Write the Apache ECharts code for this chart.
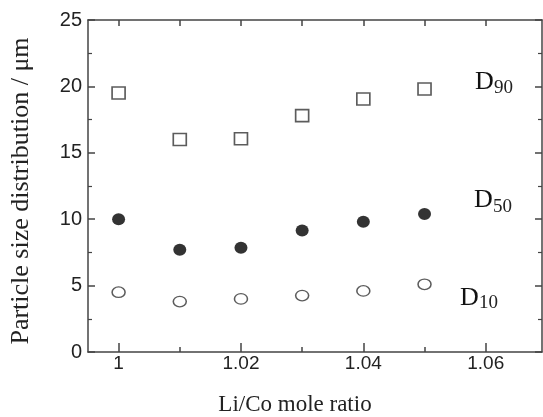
<!DOCTYPE html>
<html>
<head>
<meta charset="utf-8">
<script src="https://cdn.jsdelivr.net/npm/echarts@6/dist/echarts.min.js"></script>
<style>
html,body{margin:0;padding:0;background:#fff;}
#c{width:543px;height:417px;}
</style>
</head>
<body>
<div id="c"></div>
<script>
// ---- data ----
var ratios = [1.00, 1.01, 1.02, 1.03, 1.04, 1.05];
var d90 = [19.5, 16.0, 16.05, 17.8, 19.05, 19.8];
var d50 = [10.0, 7.7, 7.85, 9.15, 9.8, 10.4];
var d10 = [4.5, 3.8, 4.0, 4.25, 4.6, 5.1];
var xMajorTicks = [1.00, 1.02, 1.04, 1.06];
var xMinorTicks = [1.01, 1.03, 1.05];
var xAllTicks = [1.00, 1.01, 1.02, 1.03, 1.04, 1.05, 1.06];
var yTickStep = 5;
var seriesNames = ['D90', 'D50', 'D10'];

function pairs(ys) { return ratios.map(function (x, i) { return [x, ys[i]]; }); }

var axisColor = '#444';
var xMin = 0.995, xMax = 1.0692;

var chart = echarts.init(document.getElementById('c'), null, {renderer: 'canvas'});
var serif = '"Liberation Serif","DejaVu Serif",serif';
var sans = '"Liberation Sans",Arial,sans-serif';

var option = {
  backgroundColor: '#ffffff',
  animation: false,
  grid: {left: 88, right: 1, top: 20, bottom: 65, containLabel: false},
  xAxis: [
    {
      type: 'value', min: xMin, max: xMax, position: 'bottom',
      axisLine: {show: true, onZero: false, lineStyle: {color: axisColor, width: 1.5}},
      axisTick: {show: true, inside: true, length: 9, customValues: xMajorTicks, lineStyle: {color: axisColor, width: 1.5}},
      axisLabel: {show: true, customValues: xMajorTicks, margin: 2, fontSize: 19, fontFamily: sans, color: '#222',
        formatter: function (v) { return String(parseFloat(v.toFixed(2))); }},
      splitLine: {show: false}
    },
    {
      type: 'value', min: xMin, max: xMax, position: 'bottom',
      axisLine: {show: false},
      axisTick: {show: true, inside: true, length: 5, customValues: xMinorTicks, lineStyle: {color: axisColor, width: 1.5}},
      axisLabel: {show: false},
      splitLine: {show: false}
    },
    {
      type: 'value', min: xMin, max: xMax, position: 'top',
      axisLine: {show: true, onZero: false, lineStyle: {color: axisColor, width: 1.5}},
      axisTick: {show: true, inside: true, length: 6, customValues: xAllTicks, lineStyle: {color: axisColor, width: 1.5}},
      axisLabel: {show: false},
      splitLine: {show: false}
    }
  ],
  yAxis: [
    {
      type: 'value', min: 0, max: 25, interval: yTickStep, position: 'left',
      axisLine: {show: true, onZero: false, lineStyle: {color: axisColor, width: 1.5}},
      axisTick: {show: true, inside: true, length: 7, lineStyle: {color: axisColor, width: 1.5}},
      minorTick: {show: true, splitNumber: 2, length: 4, lineStyle: {color: axisColor, width: 1.2}},
      axisLabel: {show: true, margin: 6, fontSize: 20, fontFamily: sans, color: '#222'},
      splitLine: {show: false}
    },
    {
      type: 'value', min: 0, max: 25, interval: yTickStep, position: 'right',
      axisLine: {show: true, onZero: false, lineStyle: {color: axisColor, width: 1.5}},
      axisTick: {show: true, inside: true, length: 7, lineStyle: {color: axisColor, width: 1.5}},
      minorTick: {show: true, splitNumber: 2, length: 4, lineStyle: {color: axisColor, width: 1.2}},
      axisLabel: {show: false},
      splitLine: {show: false}
    }
  ],
  series: [
    {
      name: seriesNames[0], type: 'scatter', xAxisIndex: 0, yAxisIndex: 0,
      symbol: 'rect', symbolSize: [13, 12],
      itemStyle: {color: '#fff', borderColor: '#333', borderWidth: 1.6},
      data: pairs(d90)
    },
    {
      name: seriesNames[1], type: 'scatter', xAxisIndex: 0, yAxisIndex: 0,
      symbol: 'circle', symbolSize: [13, 12],
      itemStyle: {color: '#000', borderColor: '#000', borderWidth: 0},
      data: pairs(d50)
    },
    {
      name: seriesNames[2], type: 'scatter', xAxisIndex: 0, yAxisIndex: 0,
      symbol: 'circle', symbolSize: [13, 10.5],
      itemStyle: {color: '#fff', borderColor: '#333', borderWidth: 1.4},
      data: pairs(d10)
    }
  ],
  graphic: [
    {type: 'text', x: 21, y: 191, rotation: Math.PI / 2,
      style: {text: 'Particle size distribution / \u03bcm', font: '26px ' + serif, fill: '#222', align: 'center', verticalAlign: 'middle'}},
    {type: 'text', x: 295, y: 405,
      style: {text: 'Li/Co mole ratio', font: '23px ' + serif, fill: '#222', align: 'center', verticalAlign: 'middle'}},
    // D90
    {type: 'text', x: 475, y: 82, style: {text: 'D', font: '26px ' + serif, fill: '#111', align: 'left', verticalAlign: 'middle'}},
    {type: 'text', x: 494, y: 88, style: {text: '90', font: '19px ' + serif, fill: '#222', align: 'left', verticalAlign: 'middle'}},
    // D50
    {type: 'text', x: 474, y: 200, style: {text: 'D', font: '26px ' + serif, fill: '#111', align: 'left', verticalAlign: 'middle'}},
    {type: 'text', x: 493, y: 207, style: {text: '50', font: '19px ' + serif, fill: '#222', align: 'left', verticalAlign: 'middle'}},
    // D10
    {type: 'text', x: 460, y: 298, style: {text: 'D', font: '26px ' + serif, fill: '#111', align: 'left', verticalAlign: 'middle'}},
    {type: 'text', x: 479, y: 303, style: {text: '10', font: '19px ' + serif, fill: '#222', align: 'left', verticalAlign: 'middle'}}
  ]
};
chart.setOption(option);
</script>
</body>
</html>
